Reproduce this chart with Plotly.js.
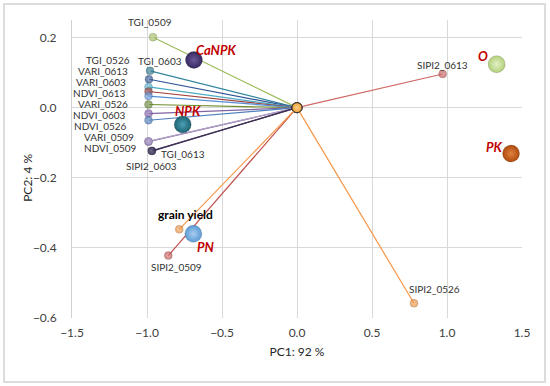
<!DOCTYPE html>
<html><head><meta charset="utf-8">
<script src="https://cdn.plot.ly/plotly-3.0.1.min.js"></script>
<style>html,body{margin:0;padding:0;background:#fff}#chart{width:550px;height:386px}</style>
</head><body><div id="chart"></div>
<script>
// ---- data (loadings of variables on PC1/PC2) ----
const varNames = ['TGI_0509','TGI_0526','VARI_0613','VARI_0603','NDVI_0613','TGI_0603','VARI_0526','NDVI_0603','NDVI_0526','NDVI_0509','VARI_0509','SIPI2_0603','TGI_0613','SIPI2_0509','grain yield','SIPI2_0613','SIPI2_0526'];
const varPC1 = [-0.96,-0.98,-0.987,-0.99,-0.99,-0.99,-0.99,-0.99,-0.99,-0.99,-0.99,-0.966,-0.969,-0.858,-0.785,0.971,0.78];
const varPC2 = [0.201,0.105,0.081,0.059,0.046,0.033,0.009,-0.017,-0.036,-0.097,-0.096,-0.124,-0.123,-0.422,-0.347,0.096,-0.558];
// ---- data (treatment scores) ----
const trtNames = ['CaNPK','NPK','PN','O','PK'];
const trtPC1 = [-0.687,-0.762,-0.691,1.331,1.427];
const trtPC2 = [0.136,-0.048,-0.36,0.124,-0.131];
// ---- axis ticks ----
const xTicks = [-1.5,-1.0,-0.5,0.0,0.5,1.0,1.5];
const yTicks = [-0.6,-0.4,-0.2,0.0,0.2];

// ---- styles ----
const varColors = ['#9bbb59','#31859c','#2e5597','#4bacc6','#a0403d','#558ed5','#6f8f2f','#8064a2','#4f81bd','#7a5fa0','#b3a2c7','#3a2f5f','#403151','#c0504d','#f79646','#d06864','#f79646'];
const varMarkerColors = ['#9bbb59','#1f6d80','#244a8a','#4bacc6','#953735','#558ed5','#5f7f2a','#7a58a8','#3f73b5','#7a5fa0','#a58fc4','#2e2550','#2e2550','#c0504d','#e88a35','#c0504d','#e88a35'];
const varLabelOff = [[-3,-15,'center'],[-19,-10.7,'right'],[-20,-8,'right'],[-22,-4.7,'right'],[-22,1.5,'right'],[11,-35,'center'],[-20,0,'right'],[-22,1.7,'right'],[-21,6,'right'],[-11,6.5,'right'],[-14,-4,'right'],[-1,15,'center'],[8,3,'left'],[8,11,'center'],[6,-15,'center'],[0,-9,'center'],[20,-14,'center']];
const trtColors = ['#35275e','#1d6373','#5b9bd5','#b3d17a','#b04a0c'];
const trtInner = ['#6a5a9a','#4aa0b3','#a9cdf0','#e2f0c6','#e0823f'];
const trtLabelOff = [[22,-10],[5,-13],[13,13],[-14,-8],[-17,-7]];

function lighten(hex, f){
  const n=parseInt(hex.slice(1),16);let r=n>>16,g=(n>>8)&255,b=n&255;
  r=Math.round(r+(255-r)*f);g=Math.round(g+(255-g)*f);b=Math.round(b+(255-b)*f);
  return 'rgb('+r+','+g+','+b+')';
}

const traces = [];
varNames.forEach((n,i)=>{
  traces.push({
    x:[0,varPC1[i]], y:[0,varPC2[i]], type:'scatter', mode:'lines+markers', name:n,
    line:{color:varColors[i], width:1.2},
    marker:{size:[10,8], color:varMarkerColors[i], gradient:{type:'radial', color:lighten(varMarkerColors[i],0.3)}, line:{width:0.5,color:'rgba(0,0,0,0.35)'}},
    hoverinfo:'text', text:['',n], showlegend:false, cliponaxis:false
  });
});
// origin marker (drawn on top)
traces.push({x:[0],y:[0],type:'scatter',mode:'markers',showlegend:false,hoverinfo:'skip',
  marker:{size:10,color:'#f0a030',gradient:{type:'radial',color:'#fcd090'},line:{width:1,color:'#333'}}});
traces.push({
  x:trtPC1, y:trtPC2, type:'scatter', mode:'markers', text:trtNames, hoverinfo:'text', showlegend:false,
  marker:{size:17, color:trtColors, gradient:{type:'radial', color:trtInner}, line:{width:0.5,color:'rgba(0,0,0,0.3)'}}
});

const annotations = [];
varNames.forEach((n,i)=>{
  const o = varLabelOff[i];
  const bold = n==='grain yield';
  annotations.push({x:varPC1[i], y:varPC2[i], xref:'x', yref:'y', text: bold?'<b>'+n+'</b>':n, showarrow:false,
    xanchor:o[2], yanchor:'middle', xshift:o[0], yshift:-o[1], borderpad:0,
    font:{family:'Lato, "Liberation Sans", sans-serif', size: bold?12:10, color: bold?'#000':'#333'}});
});
trtNames.forEach((n,i)=>{
  const o = trtLabelOff[i];
  annotations.push({x:trtPC1[i], y:trtPC2[i], xref:'x', yref:'y', text:'<b><i>'+n+'</i></b>', showarrow:false,
    xanchor:'center', yanchor:'middle', xshift:o[0], yshift:-o[1], borderpad:0,
    font:{family:'Lato, "Liberation Sans", sans-serif', size:13, color:'#c00000'}});
});
annotations.push({xref:'paper', yref:'paper', x:-0.098, y:0.47, text:'PC2: 4 %', textangle:-90, showarrow:false,
  xanchor:'center', yanchor:'middle', font:{family:'Lato, "Liberation Sans", sans-serif', size:12, color:'#262626'}});

const layout = {
  width:550, height:386,
  margin:{l:72, r:28, t:20, b:68},
  paper_bgcolor:'#fff', plot_bgcolor:'#fff',
  font:{family:'Lato, "Liberation Sans", sans-serif', color:'#404040'},
  xaxis:{range:[-1.5,1.5], tickvals:xTicks, ticktext:xTicks.map(v=>(v<0?'\u2212':'')+Math.abs(v).toFixed(1)),
    showgrid:true, gridcolor:'#d9d9d9', gridwidth:1, zeroline:false, showline:false, ticks:'',
    ticklabelstandoff:6, tickfont:{size:12,color:'#404040'},
    title:{text:'PC1: 92 %', font:{size:12,color:'#262626'}, standoff:8}},
  yaxis:{range:[-0.6,0.25], tickvals:yTicks, ticktext:yTicks.map(v=>(v<0?'\u2212':'')+Math.abs(v).toFixed(1)),
    showgrid:true, gridcolor:'#d9d9d9', gridwidth:1, zeroline:false, showline:true, linecolor:'#d0d0d0', linewidth:1, ticks:'',
    ticklabelstandoff:12, tickfont:{size:12,color:'#404040'}},
  annotations:annotations,
  shapes:[{type:'rect', xref:'paper', yref:'paper', x0:-0.151, x1:1.051, y0:-0.215, y1:1.054, line:{color:'#dcdcdc', width:2}, layer:'below'}]
};
Plotly.newPlot('chart', traces, layout, {displayModeBar:false, staticPlot:true});
</script></body></html>
